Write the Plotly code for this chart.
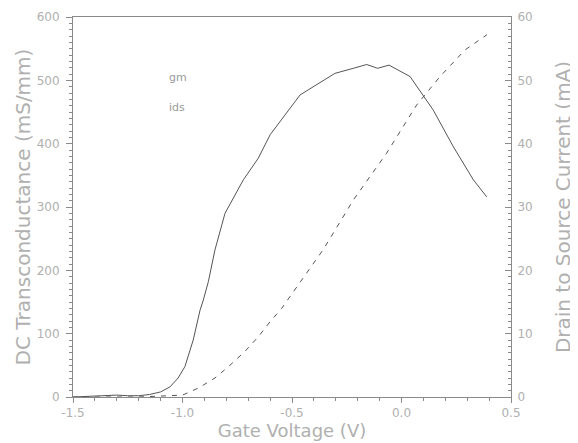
import plotly.graph_objects as go

# Gate voltage (V) and DC transconductance gm (mS/mm)
vg_gm = [-1.5, -1.4, -1.3, -1.25, -1.2, -1.15, -1.1, -1.057, -1.02, -0.989, -0.951, -0.92,
         -0.905, -0.882, -0.867, -0.852, -0.806, -0.722, -0.654, -0.60, -0.463, -0.304,
         -0.22, -0.159, -0.109, -0.057, 0.039, 0.145, 0.237, 0.328, 0.389]
gm = [0, 1, 3, 2, 2, 4, 8, 16, 30, 48, 90, 137,
      153, 182, 208, 232, 290, 343, 377, 414, 477, 511,
      519, 525, 519, 524, 506, 453, 395, 343, 316]

# Gate voltage (V) and drain-to-source current ids (mA)
vg_ids = [-1.5, -1.2, -1.0, -0.928, -0.852, -0.79, -0.715, -0.654, -0.60, -0.547, -0.494,
          -0.448, -0.395, -0.357, -0.22, -0.068, 0.069, 0.176, 0.29, 0.39]
ids = [0, 0, 0.3, 1.4, 3.0, 4.8, 7.2, 9.5, 11.9, 14.0, 16.6,
       18.8, 21.4, 23.3, 31.1, 38.5, 46.1, 50.6, 54.8, 57.2]

x_ticks = [-1.5, -1.0, -0.5, 0.0, 0.5]
x_ticktext = ["-1.5", "-1.0", "-0.5", "0.0", "0.5"]
gm_ticks = [0, 100, 200, 300, 400, 500, 600]
ids_ticks = [0, 10, 20, 30, 40, 50, 60]

TXT = "#b0b0b0"
AX = "#8a8a8a"
LN = "#555555"
FONT = "DejaVu Sans"

fig = go.Figure()
fig.add_trace(go.Scatter(x=vg_gm, y=gm, mode="lines", name="gm",
                         line=dict(color=LN, width=1), yaxis="y"))
fig.add_trace(go.Scatter(x=vg_ids, y=ids, mode="lines", name="ids",
                         line=dict(color=LN, width=1, dash="5px,6px"), yaxis="y2"))

fig.update_layout(
    width=570, height=435,
    margin=dict(l=65, r=67, t=9, b=46, autoexpand=False),
    paper_bgcolor="white", plot_bgcolor="white",
    showlegend=False,
    font=dict(family=FONT, color=TXT, size=12),
    xaxis=dict(range=[-1.5, 0.5], tickvals=x_ticks, ticktext=x_ticktext, automargin=False,
               showgrid=False, zeroline=False, showline=True, linecolor=AX, linewidth=1,
               mirror=True, ticks="outside", ticklen=5, tickcolor=AX,
               minor=dict(dtick=0.1, ticklen=3, tickcolor=AX, ticks="outside", showgrid=False),
               tickfont=dict(size=12, color=TXT),
               title=dict(text="Gate Voltage (V)", font=dict(size=18, color=TXT), standoff=0)),
    yaxis=dict(range=[0, 600], tickvals=gm_ticks, showgrid=False, zeroline=False, automargin=False,
               showline=True, linecolor=AX, linewidth=1, ticks="outside", ticklen=6,
               tickcolor=AX, ticklabelstandoff=4,
               minor=dict(dtick=10, ticklen=3, tickcolor=AX, ticks="outside", showgrid=False),
               tickfont=dict(size=12, color=TXT),
               title=dict(text="DC Transconductance (mS/mm)", font=dict(size=20, color=TXT), standoff=0)),
    yaxis2=dict(range=[0, 60], tickvals=ids_ticks, overlaying="y", side="right", automargin=False,
                showgrid=False, zeroline=False, showline=True, linecolor=AX, linewidth=1,
                ticks="inside", ticklen=6, tickcolor=AX, ticklabelstandoff=3,
                minor=dict(dtick=1, ticklen=3, tickcolor=AX, ticks="inside", showgrid=False),
                tickfont=dict(size=12, color=TXT),
                title=dict(text="Drain to Source Current (mA)", font=dict(size=20, color=TXT), standoff=24)),
    annotations=[
        dict(text="gm", x=0.215, y=0.84, xref="paper", yref="paper", xanchor="left",
             yanchor="middle", showarrow=False, font=dict(size=11, color="#9a9a9a")),
        dict(text="ids", x=0.215, y=0.763, xref="paper", yref="paper", xanchor="left",
             yanchor="middle", showarrow=False, font=dict(size=11, color="#9a9a9a")),
    ],
)

fig.write_html("out.html")
